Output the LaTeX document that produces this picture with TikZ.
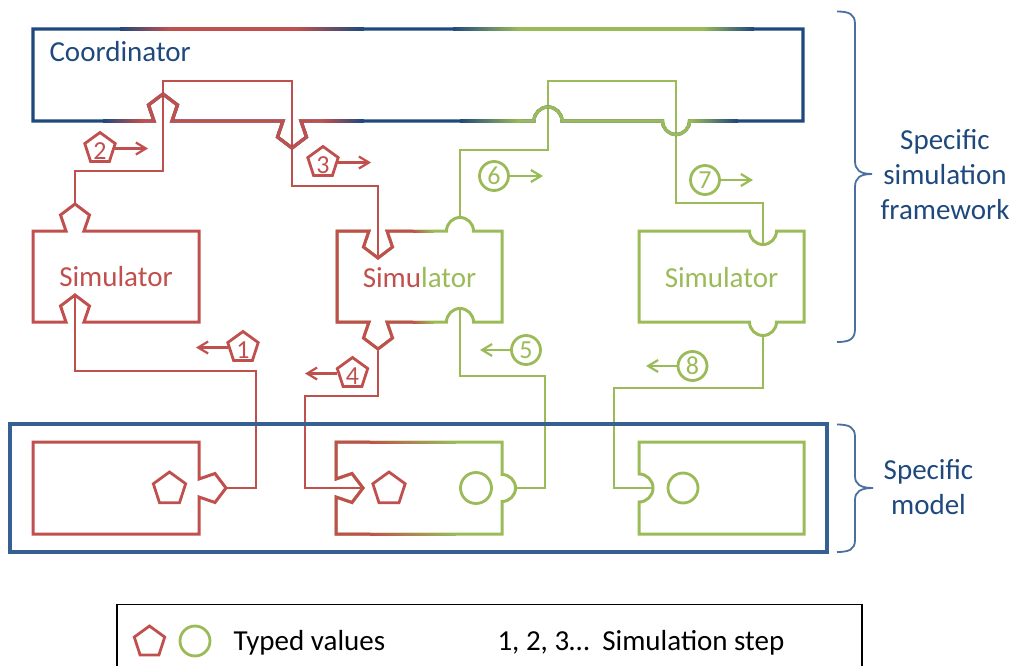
\documentclass[tikz,border=0pt]{standalone}
\usepackage{fontspec}
\setmainfont{Carlito}
\usetikzlibrary{arrows.meta,shapes.geometric}
\definecolor{cred}{HTML}{C0504D}
\definecolor{cgreen}{HTML}{9BBB59}
\definecolor{cblue}{HTML}{1F497D}
\definecolor{mblue}{HTML}{376092}
\definecolor{bblue}{HTML}{4A6FA0}
% pentagon notches (y axis points down)
\newcommand{\pnUpLR}{-- ++(-5.5,-16) -- ++(14.5,-11) -- ++(14.5,11) -- ++(-5.5,16)}
\newcommand{\pnUpRL}{-- ++(5.5,-16) -- ++(-14.5,-11) -- ++(-14.5,11) -- ++(5.5,16)}
\newcommand{\pnDnLR}{-- ++(-5.5,16) -- ++(14.5,11) -- ++(14.5,-11) -- ++(-5.5,-16)}
\newcommand{\pnDnRL}{-- ++(5.5,16) -- ++(-14.5,11) -- ++(-14.5,-11) -- ++(5.5,-16)}
\newcommand{\pnRtTB}{-- ++(16,-5.5) -- ++(11,14.5) -- ++(-11,14.5) -- ++(-16,-5.5)}
\newcommand{\pnRtBT}{-- ++(16,5.5) -- ++(11,-14.5) -- ++(-11,-14.5) -- ++(-16,5.5)}
% colour gradient along a horizontal stroke: x1, x2, y, colour A, colour B, line width
\newcommand{\gradline}[6]{%
  \foreach \gi in {0,...,23}{%
    \pgfmathsetmacro{\gxa}{#1+(#2-#1)*\gi/24}%
    \pgfmathsetmacro{\gxb}{#1+(#2-#1)*(\gi+1)/24+0.5}%
    \pgfmathsetmacro{\gpc}{100-(\gi+0.5)*100/24}%
    \draw[line width=#6,color=#4!\gpc!#5] (\gxa,#3) -- (\gxb,#3);%
  }}
\begin{document}
\begin{tikzpicture}[x=1pt,y=-1pt,line join=miter,
  boxl/.style={line width=3pt},
  coordb/.style={line width=3.3pt},
  conn/.style={line width=2.2pt},
  lbl/.style={font=\fontsize{29}{35}\selectfont},
  num/.style={font=\fontsize{26}{30}\selectfont},
  pent/.style={regular polygon, regular polygon sides=5, minimum size=32pt, inner sep=0pt, draw, line width=2.8pt},
  circ/.style={circle, minimum size=29pt, inner sep=0pt, draw, line width=2.8pt},
  larrow/.style={line width=2.2pt, -{Straight Barb[length=10pt,width=12pt]}},
  brace/.style={line width=1.8pt, bblue}]
\useasboundingbox (0,0) rectangle (1015,666);

% ---------- notch tips (connector end points)
\coordinate (m1out) at (226,488);
\coordinate (s1bot) at (75,295);
\coordinate (s1top) at (75,204);
\coordinate (s2topin) at (378,258);
\coordinate (s2botout) at (378,349);
\coordinate (m2in) at (363,488);
\coordinate (m2out) at (515.5,488);
\coordinate (s2botin) at (460,308.5);
\coordinate (s2topout) at (460,217.5);
\coordinate (s3topin) at (763,244.5);
\coordinate (s3botout) at (763,335.5);
\coordinate (m3in) at (653,488);

% ---------- connectors
\draw[conn,cred] (m1out) -- (256,488) -- (256,371) -- (75,371) -- (s1bot);
\draw[conn,cred] (s1top) -- (75,171) -- (163,171) -- (163,81) -- (292,81) -- (292,186) -- (378,186) -- (s2topin);
\draw[conn,cred] (s2botout) -- (378,396) -- (305,396) -- (305,488) -- (m2in);
\draw[conn,cgreen] (m2out) -- (545,488) -- (545,376) -- (460,376) -- (s2botin);
\draw[conn,cgreen] (s2topout) -- (460,150) -- (548,150) -- (548,81) -- (676,81) -- (676,203) -- (763,203) -- (s3topin);
\draw[conn,cgreen] (s3botout) -- (763,388) -- (614,388) -- (614,488) -- (m3in);

% ---------- coordinator
\draw[coordb,cblue] (33,29) -- (803,29) -- (803,121) -- (689.5,121) arc[start angle=0,end angle=180,radius=13.5]
  -- (562,121) arc[start angle=0,end angle=-180,radius=14] -- (301,121) \pnDnRL -- (172,121) \pnUpRL -- (33,121) -- cycle;
% top edge colours
\gradline{120}{170}{29}{cblue}{cred}{3.3pt}
\draw[coordb,cred] (170,29) -- (297,29);
\gradline{297}{363}{29}{cred}{cblue}{3.3pt}
\gradline{453}{520}{29}{cblue}{cgreen}{3.3pt}
\draw[coordb,cgreen] (520,29) -- (703,29);
\gradline{703}{753}{29}{cgreen}{cblue}{3.3pt}
% bottom edge colours
\gradline{103}{143}{121}{cblue}{cred}{3.3pt}
\draw[coordb,cred] (143,121) -- (154,121) \pnUpLR -- (283,121) \pnDnLR -- (323,121);
\gradline{323}{363}{121}{cred}{cblue}{3.3pt}
\gradline{460}{520}{121}{cblue}{cgreen}{3.3pt}
\draw[coordb,cgreen] (520,121) -- (534,121) arc[start angle=180,end angle=360,radius=14] -- (662.5,121) arc[start angle=180,end angle=0,radius=13.5] -- (690,121);
\gradline{690}{737}{121}{cgreen}{cblue}{3.3pt}
\node[lbl,text=cblue,anchor=base west] (coordtxt) at (46,62) {Coordinator};

% ---------- simulators
\draw[boxl,cred] (33,231) -- (66,231) \pnUpLR -- (199,231) -- (199,322) -- (84,322) \pnUpRL -- (33,322) -- cycle;
\node[lbl,text=cred,anchor=base] (s1txt) at (116,286) {Simulator};

\draw[boxl,cgreen] (337,231) -- (369,231) \pnDnLR -- (446.5,231) arc[start angle=180,end angle=360,radius=13.5] -- (502,231) -- (502,322)
  -- (473.5,322) arc[start angle=0,end angle=-180,radius=13.5] -- (387,322) \pnDnRL -- (337,322) -- cycle;
\draw[boxl,cred] (413,231) -- (387,231) \pnDnRL -- (337,231) -- (337,322) -- (369,322) \pnDnLR -- (413,322);
\gradline{413}{433}{231}{cred}{cgreen}{3pt}
\gradline{413}{433}{322}{cred}{cgreen}{3pt}
\node[lbl,anchor=base] (s2txt) at (419.5,287) {\textcolor{cred}{Simu}\textcolor{cgreen}{lator}};

\draw[boxl,cgreen] (639,231) -- (749.5,231) arc[start angle=180,end angle=0,radius=13.5] -- (804,231) -- (804,322)
  -- (776.5,322) arc[start angle=0,end angle=180,radius=13.5] -- (639,322) -- cycle;
\node[lbl,text=cgreen,anchor=base] (s3txt) at (721.5,287) {Simulator};

% ---------- model parts
\draw[boxl,cred] (33,442) -- (199,442) -- (199,479) \pnRtTB -- (199,534) -- (33,534) -- cycle;
\node[pent,draw=cred,minimum size=34pt] (mp1) at (169.5,489) {};

\draw[boxl,cgreen] (336,442) -- (502,442) -- (502,474.5) arc[start angle=-90,end angle=90,radius=13.5] -- (502,534) -- (336,534) -- (336,497) \pnRtBT -- cycle;
\draw[boxl,cred] (370,442) -- (336,442) -- (336,479) \pnRtTB -- (336,534) -- (370,534);
\gradline{370}{455}{442}{cred}{cgreen}{3pt}
\gradline{370}{455}{534}{cred}{cgreen}{3pt}
\node[pent,draw=cred,minimum size=34pt] (mp2) at (389,489) {};
\node[circ,draw=cgreen,minimum size=31pt] (mc2) at (476,488) {};

\draw[boxl,cgreen] (639,442) -- (804,442) -- (804,534) -- (639,534) -- (639,502) arc[start angle=90,end angle=-90,radius=14] -- cycle;
\node[circ,draw=cgreen,minimum size=30pt] (mc3) at (683,488) {};

\draw[line width=3.3pt,mblue] (10,424) rectangle (827,552);

% ---------- step labels
\node[pent,draw=cred,label={[num,text=cred,yshift=-2.5pt]center:1}] (p1) at (243,347.5) {};
\node[pent,draw=cred,label={[num,text=cred,yshift=-2.5pt]center:2}] (p2) at (100,148.5) {};
\node[pent,draw=cred,label={[num,text=cred,yshift=-2.5pt]center:3}] (p3) at (323,162.5) {};
\node[pent,draw=cred,label={[num,text=cred,yshift=-2.5pt]center:4}] (p4) at (352.5,373.5) {};
\node[circ,draw=cgreen,num,text=cgreen] (c5) at (526,350) {5};
\node[circ,draw=cgreen,num,text=cgreen] (c6) at (494,176) {6};
\node[circ,draw=cgreen,num,text=cgreen] (c7) at (705,180) {7};
\node[circ,draw=cgreen,num,text=cgreen] (c8) at (692.5,366) {8};
\coordinate (a1) at (196,347.5);
\coordinate (a2) at (148,148.5);
\coordinate (a3) at (371,162.5);
\coordinate (a4) at (305,373.5);
\coordinate (a5) at (480,350);
\coordinate (a6) at (543,176);
\coordinate (a7) at (753,180);
\coordinate (a8) at (646,366);
\draw[larrow,cred] (p1.180) -- (a1);
\draw[larrow,cred] (p2.0) -- (a2);
\draw[larrow,cred] (p3.0) -- (a3);
\draw[larrow,cred] (p4.180) -- (a4);
\draw[larrow,cgreen] (c5.180) -- (a5);
\draw[larrow,cgreen] (c6.0) -- (a6);
\draw[larrow,cgreen] (c7.0) -- (a7);
\draw[larrow,cgreen] (c8.180) -- (a8);

% ---------- braces
\draw[brace] (837,11.5) .. controls (849,11.5) and (855,14) .. (855,24) -- (855,161)
  .. controls (855,170) and (860,174) .. (872,174) .. controls (860,174) and (855,178) .. (855,187)
  -- (855,329) .. controls (855,339.5) and (849,342) .. (837,342);
\node[lbl,text=cblue,align=center] (fwtxt) at (945,175) {Specific\\simulation\\framework};
\draw[brace] (837,424.5) .. controls (849,424.5) and (855,427) .. (855,437) -- (855,476)
  .. controls (855,484) and (860,488) .. (873,488) .. controls (860,488) and (855,492) .. (855,500)
  -- (855,540) .. controls (855,549.5) and (849,552) .. (837,552);
\node[lbl,text=cblue,align=center] (mdtxt) at (928.5,487) {Specific\\model};

% ---------- legend
\draw[line width=1.3pt] (117,666) -- (117,604.5) -- (862,604.5) -- (862,666);
\node[pent,draw=cred] (lp) at (149.5,642) {};
\node[circ,draw=cgreen,minimum size=30pt] (lc) at (195,641) {};
\node[lbl,anchor=base west] (tv) at (230,650) {Typed values};
\node[lbl,anchor=base west] (ss) at (494,650) {1, 2, 3…\ \ Simulation step};
\end{tikzpicture}
\end{document}
